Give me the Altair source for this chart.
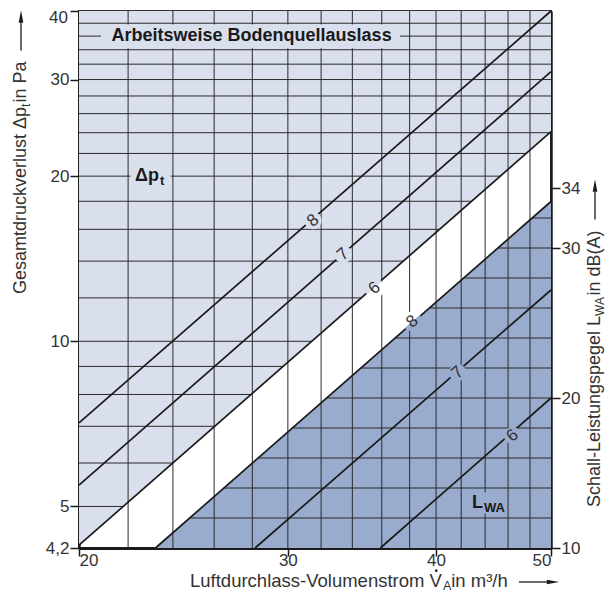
import math
import altair as alt
import pandas as pd

# ---------------- values ----------------
x_ticks = [20, 30, 40, 50]
dp_ticks = [4.2, 5, 10, 20, 30, 40]
db_ticks = [10, 20, 30, 34]

v_grid = [22, 24, 26, 28, 30, 32, 34, 36, 38, 40, 42, 44, 46, 48]
dp_grid = [5, 6, 7, 8, 9, 10, 12, 14, 16, 18, 20, 22, 24, 26, 28, 30, 32, 34, 36, 38]
db_grid = [12, 14, 16, 18, 20, 22, 24, 26, 28, 30, 32]

settings = ["8", "7", "6"]
dp_start = [7.1, 5.47, 4.25]        # Δp at 20 m³/h
dp_end = [40.0, 31.0, 24.1]         # Δp at 50 m³/h
lwa_v_start = [23.2, 28.15, 35.9]   # V where L_WA = 10 dB(A)
lwa_end = [33.1, 27.2, 20.0]        # L_WA at 50 m³/h

dp_label_v = [31.5, 33.4, 35.5]
dp_label_y = [16.6, 14.4, 12.5]
lwa_label_v = [38.2, 41.7, 46.4]
lwa_label_y = [25.1, 21.7, 17.5]

V_MIN, V_MAX = 20, 50
DP_MIN, DP_MAX = 4.2, 40
DB_MIN, DB_MAX = 10, 45.8

FONT = "Liberation Sans"
LIGHT = "#d9dfed"
DARK = "#99acce"
INK = "#1a1a1a"
TXT = "#333333"

# ---------------- derived tables ----------------
k6 = math.log(dp_end[2] / dp_start[2]) / math.log(V_MAX / V_MIN)
dpgrid_df = pd.DataFrame({
    "y": dp_grid,
    "V1": [V_MIN] * len(dp_grid),
    "V2": [min(V_MAX, V_MIN * (v / dp_start[2]) ** (1 / k6)) for v in dp_grid],
})
dbgrid_df = pd.DataFrame({
    "y": db_grid,
    "V1": [lwa_v_start[0] * (V_MAX / lwa_v_start[0]) ** ((d - DB_MIN) / (lwa_end[0] - DB_MIN)) for d in db_grid],
    "V2": [V_MAX] * len(db_grid),
})
light_df = pd.DataFrame({"V": [V_MIN, V_MAX], "lo": [dp_start[2], dp_end[2]], "hi": [DP_MAX, DP_MAX]})
dark_df = pd.DataFrame({"V": [lwa_v_start[0], V_MAX], "lo": [DB_MIN, DB_MIN], "hi": [DB_MIN, lwa_end[0]]})

dp_lines_df = pd.DataFrame(
    [{"s": s, "V": V_MIN, "y": a} for s, a in zip(settings, dp_start)]
    + [{"s": s, "V": V_MAX, "y": b} for s, b in zip(settings, dp_end)]
)
lwa_lines_df = pd.DataFrame(
    [{"s": s, "V": v0, "y": DB_MIN} for s, v0 in zip(settings, lwa_v_start)]
    + [{"s": s, "V": V_MAX, "y": b} for s, b in zip(settings, lwa_end)]
)
dp_lab_df = pd.DataFrame({"s": settings, "V": dp_label_v, "y": dp_label_y})
lwa_lab_df = pd.DataFrame({"s": settings, "V": lwa_label_v, "y": lwa_label_y})
vgrid_df = pd.DataFrame({"V": v_grid})

# ---------------- scales / axes ----------------
xscale = alt.Scale(type="log", domain=[V_MIN, V_MAX], nice=False)
dpscale = alt.Scale(type="log", domain=[DP_MIN, DP_MAX], nice=False, zero=False)
dbscale = alt.Scale(type="linear", domain=[DB_MIN, DB_MAX], nice=False, zero=False)

x_axis = alt.Axis(values=x_ticks, format="d", title=None, grid=False,
                  labelFont=FONT, labelFontSize=17, labelColor=TXT, labelPadding=-4,
                  tickSize=8, tickColor=INK, tickWidth=1.5,
                  domainColor=INK, domainWidth=3)
dp_axis = alt.Axis(values=dp_ticks, orient="left", title=None, grid=False,
                   labelExpr="datum.value >= 40 ? '' : replace(format(datum.value, '.2~f'), '.', ',')",
                   labelFont=FONT, labelFontSize=17, labelColor=TXT, labelPadding=1,
                   tickSize=9, tickColor=INK, tickWidth=1.5,
                   domainColor=INK, domainWidth=2.5)
db_axis = alt.Axis(values=db_ticks, orient="right", format="d", title=None, grid=False,
                   labelFont=FONT, labelFontSize=17, labelColor=TXT, labelPadding=1,
                   tickSize=9, tickColor=INK, tickWidth=1.5,
                   domainColor=INK, domainWidth=2.5)


def X(f="V"):
    return alt.X(f"{f}:Q", scale=xscale, axis=x_axis)


def X2(f):
    return alt.X2(f"{f}:Q")


def Ydp(f="y", axis=None):
    return alt.Y(f"{f}:Q", scale=dpscale, axis=axis)


def Ydb(f="y", axis=None):
    return alt.Y(f"{f}:Q", scale=dbscale, axis=axis)


# ---------------- group A1: light region + Δp grid ----------------
light = alt.Chart(light_df).mark_area(color=LIGHT, opacity=1).encode(
    x=X(), y=Ydp("hi", dp_axis), y2=alt.Y2("lo:Q"))
dpgrid = alt.Chart(dpgrid_df).mark_rule(color="#2a2a2a", strokeWidth=1).encode(
    x=X("V1"), x2=X2("V2"), y=Ydp("y", dp_axis))
A1 = alt.layer(light, dpgrid)

# ---------------- group B1: dark region + dB grid ----------------
dark = alt.Chart(dark_df).mark_area(color=DARK, opacity=1).encode(
    x=X(), y=Ydb("hi", db_axis), y2=alt.Y2("lo:Q"))
dbgrid = alt.Chart(dbgrid_df).mark_rule(color="#2a2a2a", strokeWidth=1).encode(
    x=X("V1"), x2=X2("V2"), y=Ydb("y", db_axis))
B1 = alt.layer(dark, dbgrid)

# ---------------- vertical grid ----------------
vgrid = alt.Chart(vgrid_df).mark_rule(color="#2a2a2a", strokeWidth=1).encode(x=X())

# ---------------- group A2: Δp lines + labels ----------------
dplines = alt.Chart(dp_lines_df).mark_line(color=INK, strokeWidth=1.7).encode(
    x=X(), y=Ydp(), detail="s:N")
box_arb = alt.Chart(pd.DataFrame({"a": [20.87], "b": [37.3], "c": [37.8], "d": [34.2]})).mark_rect(
    color=LIGHT).encode(x=X("a"), x2=X2("b"), y=Ydp("c"), y2=alt.Y2("d:Q"))
box_dp = alt.Chart(pd.DataFrame({"a": [22.1], "b": [23.9], "c": [20.8], "d": [19.2]})).mark_rect(
    color=LIGHT).encode(x=X("a"), x2=X2("b"), y=Ydp("c"), y2=alt.Y2("d:Q"))
dp_patch = alt.Chart(dp_lab_df[dp_lab_df.s != "6"]).mark_point(
    filled=True, shape="circle", size=300, color=LIGHT, opacity=1).encode(x=X(), y=Ydp())
dp6 = dp_lab_df[dp_lab_df.s == "6"]
dp_patch6a = alt.Chart(dp6).mark_arc(radius=10, theta=3.993, theta2=7.135, color=LIGHT).encode(x=X(), y=Ydp())
dp_patch6b = alt.Chart(dp6).mark_arc(radius=10, theta=0.852, theta2=3.993, color="white").encode(x=X(), y=Ydp())
dp_text = alt.Chart(dp_lab_df).mark_text(font=FONT, fontSize=17, color=TXT, angle=319,
                                         align="center", baseline="middle").encode(
    x=X(), y=Ydp(), text="s:N")
arb_text = alt.Chart(pd.DataFrame({"V": [27.96], "y": [36], "t": ["Arbeitsweise Bodenquellauslass"]})).mark_text(
    font=FONT, fontSize=18, fontWeight="bold", color=INK, align="center", baseline="middle").encode(
    x=X(), y=Ydp(), text="t:N")
dpt_text = alt.Chart(pd.DataFrame({"V": [22.3], "y": [20], "t": ["Δp"]})).mark_text(
    font=FONT, fontSize=18, fontWeight="bold", color=INK, align="left", baseline="middle").encode(
    x=X(), y=Ydp(), text="t:N")
dpt_sub = alt.Chart(pd.DataFrame({"V": [23.4], "y": [20], "t": ["t"]})).mark_text(
    font=FONT, fontSize=13, fontWeight="bold", color=INK, align="left", baseline="middle", dy=5).encode(
    x=X(), y=Ydp(), text="t:N")
A2 = alt.layer(dplines, box_arb, box_dp, dp_patch, dp_patch6a, dp_patch6b, dp_text, arb_text, dpt_text, dpt_sub)

# ---------------- group B2: L_WA lines + labels ----------------
lwalines = alt.Chart(lwa_lines_df).mark_line(color=INK, strokeWidth=1.7).encode(
    x=X(), y=Ydb(), detail="s:N")
box_l = alt.Chart(pd.DataFrame({"a": [42.9], "b": [45.6], "c": [13.7], "d": [12.3]})).mark_rect(
    color=DARK).encode(x=X("a"), x2=X2("b"), y=Ydb("c"), y2=alt.Y2("d:Q"))
lwa_patch = alt.Chart(lwa_lab_df[lwa_lab_df.s != "8"]).mark_point(
    filled=True, shape="circle", size=300, color=DARK, opacity=1).encode(x=X(), y=Ydb())
l8 = lwa_lab_df[lwa_lab_df.s == "8"]
l_patch8a = alt.Chart(l8).mark_arc(radius=10, theta=3.993, theta2=7.135, color="white").encode(x=X(), y=Ydb())
l_patch8b = alt.Chart(l8).mark_arc(radius=10, theta=0.852, theta2=3.993, color=DARK).encode(x=X(), y=Ydb())
lwa_text = alt.Chart(lwa_lab_df).mark_text(font=FONT, fontSize=17, color=TXT, angle=319,
                                           align="center", baseline="middle").encode(
    x=X(), y=Ydb(), text="s:N")
l_text = alt.Chart(pd.DataFrame({"V": [42.9], "y": [13.0], "t": ["L"]})).mark_text(
    font=FONT, fontSize=18, fontWeight="bold", color=INK, align="left", baseline="middle").encode(
    x=X(), y=Ydb(), text="t:N")
l_sub = alt.Chart(pd.DataFrame({"V": [43.9], "y": [13.0], "t": ["WA"]})).mark_text(
    font=FONT, fontSize=13, fontWeight="bold", color=INK, align="left", baseline="middle", dy=5).encode(
    x=X(), y=Ydb(), text="t:N")
B2 = alt.layer(lwalines, box_l, lwa_patch, l_patch8a, l_patch8b, lwa_text, l_text, l_sub)

# ---------------- axis titles (composed, with subscripts) ----------------
one = pd.DataFrame({"k": [0]})


def txt(s, x, y, size, angle=0, align="left", baseline="alphabetic"):
    return alt.Chart(one).mark_text(text=s, font=FONT, fontSize=size, color=TXT, angle=angle,
                                    align=align, baseline=baseline).encode(
        x=alt.value(x), y=alt.value(y))


def hrule(x1, x2, y):
    return alt.Chart(one).mark_rule(color=INK, strokeWidth=1.3).encode(
        x=alt.value(x1), x2=alt.value(x2), y=alt.value(y))


def vrule(x, y1, y2):
    return alt.Chart(one).mark_rule(color=INK, strokeWidth=1.3).encode(
        x=alt.value(x), y=alt.value(y1), y2=alt.value(y2))


def head(x, y, path):
    return alt.Chart(one).mark_point(shape=path, filled=True, size=150, color=INK, opacity=1).encode(
        x=alt.value(x), y=alt.value(y))


def dot(x, y):
    return alt.Chart(one).mark_point(shape="circle", filled=True, size=8, color=TXT, opacity=1).encode(
        x=alt.value(x), y=alt.value(y))


RIGHT_HEAD = "M-1,-0.38L1,0L-1,0.38Z"
UP_HEAD = "M-0.38,1L0,-1L0.38,1Z"

# top "40" label of the left axis (kept inside the page)
top_label = [txt("40", -11, 6.5, 17, align="right", baseline="middle")]

# bottom title
FSB, SUBB = 18.5, 12.5
bx0, by = 111, 576
bj = bx0 + 13.671 * FSB
bsub = 0.667 * SUBB
bend = bj + bsub + 3.334 * FSB
bottom = [
    txt("Luftdurchlass-Volumenstrom V", bx0, by, FSB),
    dot(bj - 0.36 * FSB, by - 0.716 * FSB - 3),
    txt("A", bj, by + 3, SUBB),
    txt(" in m³/h", bj + bsub, by, FSB),
    hrule(bend + 6, bend + 34, by - 5),
    head(bend + 40, by - 5, RIGHT_HEAD),
]

# left title (rotated)
FSL, SUBL = 18, 12
lx, ly0 = -53, 283
lj = ly0 - 10.393 * FSL
lsub = 0.278 * SUBL + 1
lend = lj - lsub - 2.557 * FSL
left = [
    txt("Gesamtdruckverlust Δp", lx, ly0, FSL, angle=270),
    txt("t", lx + 4, lj, SUBL, angle=270),
    txt(" in Pa", lx, lj - lsub, FSL, angle=270),
    vrule(lx - 5, lend - 6, lend - 34),
    head(lx - 5, lend - 40, UP_HEAD),
]

# right title (rotated)
FSR, SUBR = 18, 12
rx, ry0 = 521, 496
rj = ry0 - 10.616 * FSR
rsub = 1.611 * SUBR + 1
rend = rj - rsub - 3.89 * FSR
right = [
    txt("Schall-Leistungspegel L", rx, ry0, FSR, angle=270),
    txt("WA", rx + 4, rj, SUBR, angle=270),
    txt(" in dB(A)", rx, rj - rsub, FSR, angle=270),
    vrule(rx - 5, rend - 6, rend - 34),
    head(rx - 5, rend - 40, UP_HEAD),
]

chart = alt.layer(A1, B1, vgrid, A2, B2, *top_label, *bottom, *left, *right).resolve_scale(
    y="independent"
).properties(
    width=472, height=537,
    autosize=alt.AutoSizeParams(type="none"),
    padding={"left": 71, "top": 3, "right": 56, "bottom": 45},
).configure_view(stroke="#333333", strokeWidth=2, fill="white")

chart.save("out.html", embed_options={"renderer": "svg", "actions": False})
